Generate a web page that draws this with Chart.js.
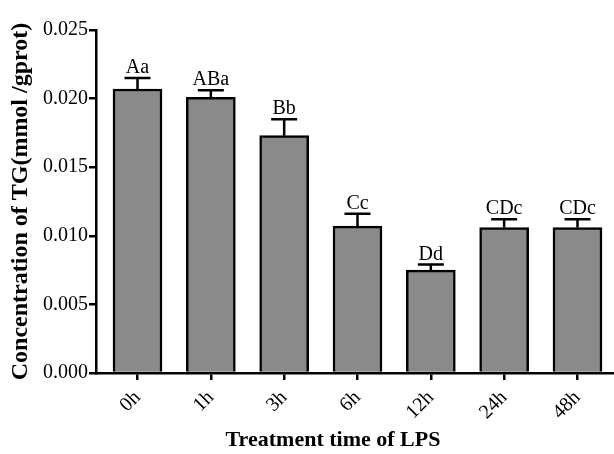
<!DOCTYPE html>
<html>
<head>
<meta charset="utf-8">
<script src="https://cdn.jsdelivr.net/npm/chart.js@4/dist/chart.umd.min.js"></script>
<style>
html,body{margin:0;padding:0;background:#fff;}
#wrap{width:614px;height:454px;position:relative;}
</style>
</head>
<body>
<div id="wrap"><canvas id="c" width="614" height="454"></canvas></div>
<script>
const categories = ['0h', '1h', '3h', '6h', '12h', '24h', '48h'];
const meanTG = [0.0207, 0.0201, 0.0173, 0.0107, 0.0075, 0.0106, 0.0106];
const sdTG = [0.0008, 0.0005, 0.0012, 0.0009, 0.0004, 0.0006, 0.0006];
const sigLetters = ['Aa', 'ABa', 'Bb', 'Cc', 'Dd', 'CDc', 'CDc'];
const yTicks = [0, 0.005, 0.010, 0.015, 0.020, 0.025];

const SERIF = '"Liberation Serif", "Times New Roman", serif';

const errPlugin = {
  id: 'errbars',
  afterDatasetsDraw(chart) {
    const ctx = chart.ctx;
    const xs = chart.scales.x, ys = chart.scales.y;
    ctx.save();
    ctx.strokeStyle = '#000';
    ctx.lineWidth = 2.5;
    ctx.fillStyle = '#000';
    ctx.font = '20px ' + SERIF;
    ctx.textAlign = 'center';
    ctx.textBaseline = 'alphabetic';
    meanTG.forEach((m, i) => {
      const x = xs.getPixelForValue(i);
      const y0 = ys.getPixelForValue(m);
      const y1 = ys.getPixelForValue(m + sdTG[i]);
      ctx.beginPath();
      ctx.moveTo(x, y0);
      ctx.lineTo(x, y1);
      ctx.moveTo(x - 13, y1);
      ctx.lineTo(x + 13, y1);
      ctx.stroke();
      ctx.fillText(sigLetters[i], x, y1 - 5);
    });
    // x axis title
    ctx.font = 'bold 22px ' + SERIF;
    ctx.textBaseline = 'middle';
    ctx.fillText('Treatment time of LPS', chart.chartArea.left + 237, 440);
    ctx.restore();
  }
};

new Chart(document.getElementById('c'), {
  type: 'bar',
  data: {
    datasets: [{
      data: meanTG.map((v, i) => ({x: i, y: v})),
      backgroundColor: '#8a8a8a',
      borderColor: '#000',
      borderWidth: 2.5,
      barThickness: 49
    }]
  },
  options: {
    responsive: false,
    animation: false,
    devicePixelRatio: 1,
    layout: {padding: {top: 30, right: 0, left: 0, bottom: 0}},
    plugins: {legend: {display: false}, tooltip: {enabled: false}},
    scales: {
      x: {
        type: 'linear',
        bounds: 'data',
        offset: false,
        min: -0.566,
        max: 6.498,
        z: 1,
        afterBuildTicks: s => { s.ticks = categories.map((_, i) => ({value: i})); },
        afterFit: s => { s.height = 81; },
        grid: {display: true, offset: false, drawOnChartArea: false, drawTicks: true, tickLength: 7, color: '#000', lineWidth: 2.5},
        border: {display: true, color: '#000', width: 2.5},
        ticks: {
          color: '#000',
          font: {family: SERIF, size: 20},
          maxRotation: 45, minRotation: 45,
          padding: 6,
          autoSkip: false,
          callback: v => categories[v] ?? ''
        }
      },
      y: {
        min: 0,
        max: 0.025,
        z: 1,
        afterBuildTicks: s => { s.ticks = yTicks.map(v => ({value: v})); },
        afterFit: s => { s.width = 96; },
        grid: {display: true, drawOnChartArea: false, drawTicks: true, tickLength: 7, color: '#000', lineWidth: 2.5},
        border: {display: true, color: '#000', width: 2.5},
        ticks: {
          color: '#000',
          font: {family: SERIF, size: 20},
          padding: 1,
          callback: v => Number(v).toFixed(3)
        },
        title: {
          display: true,
          text: 'Concentration of TG(mmol /gprot)',
          color: '#000',
          font: {family: SERIF, size: 24, weight: 'bold'},
          padding: {top: 6, bottom: 0}
        }
      }
    }
  },
  plugins: [errPlugin]
});
</script>
</body>
</html>
